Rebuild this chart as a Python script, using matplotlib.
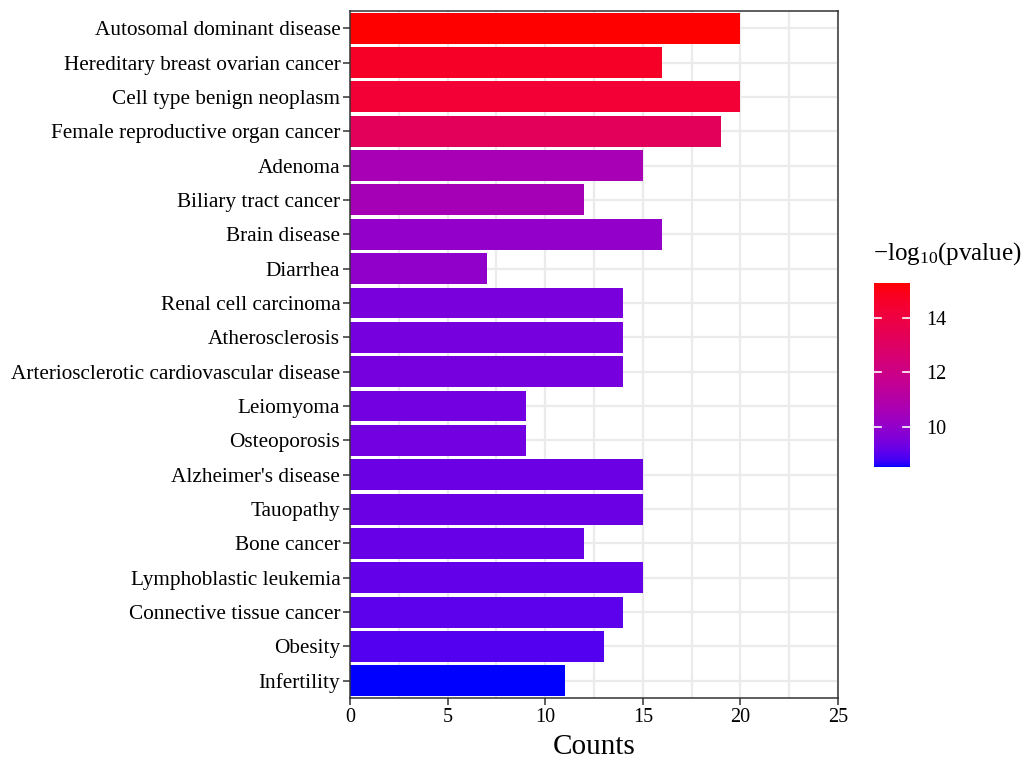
import matplotlib
matplotlib.use("Agg")
import matplotlib.pyplot as plt
import numpy as np
from matplotlib.colors import ListedColormap, Normalize
from matplotlib.cm import ScalarMappable

plt.rcParams['font.family'] = ['Liberation Serif', 'DejaVu Serif']
plt.rcParams['mathtext.fontset'] = 'custom'
plt.rcParams['mathtext.rm'] = 'Liberation Serif'
plt.rcParams['mathtext.default'] = 'regular'

# data (top to bottom)
terms = ["Autosomal dominant disease", "Hereditary breast ovarian cancer",
         "Cell type benign neoplasm", "Female reproductive organ cancer",
         "Adenoma", "Biliary tract cancer", "Brain disease", "Diarrhea",
         "Renal cell carcinoma", "Atherosclerosis",
         "Arteriosclerotic cardiovascular disease", "Leiomyoma", "Osteoporosis",
         "Alzheimer's disease", "Tauopathy", "Bone cancer",
         "Lymphoblastic leukemia", "Connective tissue cancer", "Obesity",
         "Infertility"]
counts = [20, 16, 20, 19, 15, 12, 16, 7, 14, 14, 14, 9, 9, 15, 15, 12, 15, 14, 13, 11]
neg_log_p = [15.28, 14.65, 14.3, 13.3, 10.6, 10.55, 10.05, 10.0, 9.5, 9.45,
             9.45, 9.38, 9.36, 9.28, 9.27, 9.2, 9.15, 9.07, 8.97, 8.53]


# ggplot-like blue -> red gradient, interpolated in Lab space
def srgb_to_lab(rgb):
    rgb = np.asarray(rgb, float)
    lin = np.where(rgb <= 0.04045, rgb / 12.92, ((rgb + 0.055) / 1.055) ** 2.4)
    M = np.array([[0.4124, 0.3576, 0.1805],
                  [0.2126, 0.7152, 0.0722],
                  [0.0193, 0.1192, 0.9505]])
    xyz = M @ lin / np.array([0.95047, 1.0, 1.08883])
    f = np.where(xyz > 0.008856, np.cbrt(xyz), 7.787 * xyz + 16 / 116)
    return np.array([116 * f[1] - 16, 500 * (f[0] - f[1]), 200 * (f[1] - f[2])])


def lab_to_srgb(lab):
    L, a, b = lab
    fy = (L + 16) / 116
    fx = fy + a / 500
    fz = fy - b / 200
    f = np.array([fx, fy, fz])
    xyz = np.where(f ** 3 > 0.008856, f ** 3, (f - 16 / 116) / 7.787)
    xyz = xyz * np.array([0.95047, 1.0, 1.08883])
    Minv = np.array([[3.2406, -1.5372, -0.4986],
                     [-0.9689, 1.8758, 0.0415],
                     [0.0557, -0.2040, 1.0570]])
    lin = Minv @ xyz
    lin = np.clip(lin, 0, 1)
    rgb = np.where(lin <= 0.0031308, 12.92 * lin, 1.055 * lin ** (1 / 2.4) - 0.055)
    return np.clip(rgb, 0, 1)


lab_lo = srgb_to_lab([0, 0, 1])
lab_hi = srgb_to_lab([1, 0, 0])
cmap = ListedColormap([lab_to_srgb(lab_lo + t * (lab_hi - lab_lo)) for t in np.linspace(0, 1, 256)])
norm = Normalize(vmin=min(neg_log_p), vmax=max(neg_log_p))

fig = plt.figure(figsize=(10.29, 7.61), dpi=100)
ax = fig.add_axes([350 / 1029, 1 - 698 / 761, 488 / 1029, 687 / 761])

n = len(terms)
ypos = np.arange(n, 0, -1)
ax.barh(ypos, counts, height=0.9, color=cmap(norm(neg_log_p)), zorder=2)

ax.set_xlim(0, 25)
ax.set_ylim(0.5, n + 0.5)
ax.set_yticks(ypos)
ax.set_yticklabels(terms, fontsize=15.3)
ax.set_xticks([0, 5, 10, 15, 20, 25])
ax.set_xticks([2.5, 7.5, 12.5, 17.5, 22.5], minor=True)
ax.tick_params(axis='x', labelsize=14.5, length=5, width=1.1, color='#333333', pad=2)
ax.tick_params(axis='y', length=5, width=1.1, color='#333333', pad=2)
ax.tick_params(axis='x', which='minor', length=0)
ax.grid(True, which='major', color='#EBEBEB', linewidth=1.6, zorder=0)
ax.grid(True, which='minor', axis='x', color='#EBEBEB', linewidth=1.6, zorder=0)
ax.set_axisbelow(True)
for s in ax.spines.values():
    s.set_color('#333333')
    s.set_linewidth(1.1)
ax.set_xlabel("Counts", fontsize=21, labelpad=5)

# colour bar
cax = fig.add_axes([874 / 1029, 1 - 467 / 761, 36 / 1029, 184 / 761])
cb = fig.colorbar(ScalarMappable(norm=norm, cmap=cmap), cax=cax, ticks=[10, 12, 14])
cb.outline.set_visible(False)
cax.tick_params(length=0, labelsize=14.5, pad=12)
for t in [10, 12, 14]:
    cax.plot([0, 0.2], [t, t], color='white', lw=1.2, transform=cax.get_yaxis_transform())
    cax.plot([0.8, 1.0], [t, t], color='white', lw=1.2, transform=cax.get_yaxis_transform())
fig.text(873 / 1029, 1 - 254 / 761, r"$-$log$_{10}$(pvalue)", fontsize=18, ha='left', va='center')

fig.savefig("out.png", dpi=100)
